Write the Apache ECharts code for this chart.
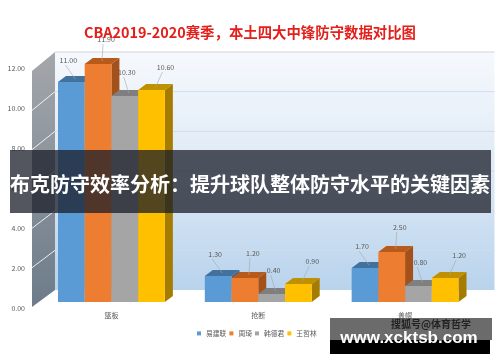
<!DOCTYPE html>
<html>
<head>
<meta charset="utf-8">
<script src="https://cdn.jsdelivr.net/npm/echarts@6/dist/echarts.min.js"></script>
<style>html,body{margin:0;padding:0;background:#fff;}#main{width:500px;height:362px;}</style>
</head>
<body>
<div id="main"></div>
<script>
// ---- data ----
const categories = ['篮板', '抢断', '盖帽'];
const players = ['易建联', '周琦', '韩德君', '王哲林'];
const yiJianlian = [11.00, 1.30, 1.70];
const zhouQi = [11.90, 1.20, 2.50];
const hanDejun = [10.30, 0.40, 0.80];
const wangZhelin = [10.60, 0.90, 1.20];
const yTicks = [0, 2, 4, 6, 8, 10, 12];
const titleText = 'CBA2019-2020赛季，本土四大中锋防守数据对比图';
const bannerText = '布克防守效率分析：提升球队整体防守水平的关键因素';

// ---- style ----
const seriesValues = [yiJianlian, zhouQi, hanDejun, wangZhelin];
const frontColors = ['#5b9bd5', '#ed7d31', '#a5a5a5', '#ffc000'];
const topColors = ['#41719c', '#b85a1c', '#7f7f7f', '#bf9000'];
const sideColors = ['#3a6690', '#a3501a', '#767676', '#a57c00'];
const labelOff = [[-3, -16], [8, -19], [2, -18], [14, -17]];
const DX = 8, DY = -6;
const FONT = '"Noto Sans CJK SC", "Noto Sans", sans-serif';

function barRender(si) {
  return function (params, api) {
    const cat = api.value(0), v = api.value(1);
    const b = api.coord([cat, 0]), t = api.coord([cat, v]);
    const band = api.size([1, 0])[0];
    const gw = band * 0.728, bw = gw / 4;
    const x0 = b[0] - gw / 2 + si * bw, x1 = x0 + bw;
    const yT = t[1], yB = b[1];
    const cx = (x0 + x1) / 2;
    const lx = cx + labelOff[si][0], ly = yT + DY + labelOff[si][1];
    return {
      type: 'group',
      children: [
        { type: 'polygon', shape: { points: [[x1, yB], [x1, yT], [x1 + DX, yT + DY], [x1 + DX, yB + DY]] }, style: { fill: sideColors[si] } },
        { type: 'polygon', shape: { points: [[x0, yT], [x1, yT], [x1 + DX, yT + DY], [x0 + DX, yT + DY]] }, style: { fill: topColors[si] } },
        { type: 'rect', shape: { x: x0, y: yT, width: bw, height: yB - yT }, style: { fill: frontColors[si] } },
        { type: 'line', shape: { x1: lx - 3, y1: ly + 5, x2: cx + DX / 2, y2: yT + DY / 2 }, style: { stroke: '#a6a6a6', lineWidth: 0.6 } },
        { type: 'text', x: lx, y: ly, style: { text: v.toFixed(2), fill: '#595959', fontSize: 7, fontFamily: FONT, align: 'center', verticalAlign: 'middle' } }
      ]
    };
  };
}

function wallRender(params, api) {
  const cs = params.coordSys;
  const vMax = yTicks[yTicks.length - 1];
  const f0 = api.coord([0, 0])[1];
  const fMax = api.coord([0, vMax])[1];
  const backL = cs.x + 17, backR = cs.x + cs.width + 16;
  const bY = v => (f0 - 12) + ((fMax - 10) - (f0 - 12)) * v / vMax;
  const lfX = cs.x - 6;
  const lY = v => (f0 + 5) + ((fMax + 9) - (f0 + 5)) * v / vMax;
  const children = [];
  children.push({
    type: 'rect', shape: { x: backL, y: bY(vMax), width: backR - backL, height: bY(0) - bY(vMax) },
    style: { fill: new echarts.graphic.LinearGradient(0, 0, 0, 1, [
      { offset: 0, color: '#f6f9fd' }, { offset: 0.5, color: '#dde9f6' }, { offset: 1, color: '#b8d3ec' }]) }
  });
  children.push({
    type: 'polygon', shape: { points: [[lfX, lY(0)], [backL, bY(0)], [backL, bY(vMax)], [lfX, lY(vMax)]] },
    style: { fill: new echarts.graphic.LinearGradient(0, 0, 0, 1, [
      { offset: 0, color: '#a4a7ab' }, { offset: 1, color: '#6d7b8a' }]) }
  });
  yTicks.forEach(v => {
    if (v === 0) return;
    children.push({ type: 'line', shape: { x1: backL, y1: bY(v), x2: backR, y2: bY(v) },
      style: { stroke: v === vMax ? '#d0d4d9' : '#d3dce6', lineWidth: 1 } });
    if (v !== vMax) {
      children.push({ type: 'line', shape: { x1: lfX, y1: lY(v), x2: backL, y2: bY(v) },
        style: { stroke: 'rgba(255,255,255,0.85)', lineWidth: 1 } });
    }
  });
  return { type: 'group', children: children };
}

const chart = echarts.init(document.getElementById('main'), null, { renderer: 'canvas' });

const series = [{
  name: 'walls', type: 'custom', renderItem: wallRender, data: [[0, 0]], silent: true, z: 0
}];
players.forEach((p, si) => {
  series.push({
    name: p, type: 'custom', z: 2 + si, silent: true,
    itemStyle: { color: frontColors[si] },
    renderItem: barRender(si),
    data: categories.map((c, ci) => [ci, seriesValues[si][ci]])
  });
});

chart.setOption({
  animation: false,
  backgroundColor: '#ffffff',
  textStyle: { fontFamily: FONT },
  title: {
    text: titleText, left: 'center', top: 25, padding: 0,
    textStyle: { fontSize: 14.4, fontWeight: 'bold', color: '#e3201b', fontFamily: FONT }
  },
  grid: { left: 38, right: 21.5, top: 62, bottom: 60 },
  xAxis: {
    type: 'category', data: categories,
    axisLine: { show: false }, axisTick: { show: false },
    axisLabel: { fontSize: 7, color: '#595959', margin: 10, fontFamily: FONT }
  },
  yAxis: {
    type: 'value', min: 0, max: 12, interval: 2,
    axisLine: { show: false }, axisTick: { show: false }, splitLine: { show: false },
    axisLabel: { fontSize: 7, color: '#595959', margin: 13, verticalAlign: 'top', padding: [3, 0, 0, 0], formatter: v => v.toFixed(2), fontFamily: FONT }
  },
  legend: {
    data: players, left: 197, top: 330, icon: 'rect', itemWidth: 4, itemHeight: 4, itemGap: 3,
    textStyle: { fontSize: 6.8, color: '#595959', fontFamily: FONT }, padding: 0
  },
  graphic: [
    { type: 'rect', z: 100, shape: { x: 10, y: 150, width: 481, height: 63 }, style: { fill: 'rgba(25,30,40,0.75)' } },
    { type: 'text', z: 101, x: 250, y: 184, style: { text: bannerText, fill: '#ffffff', font: 'bold 20px "Noto Sans CJK SC"', align: 'center', verticalAlign: 'middle' } },
    { type: 'rect', z: 100, shape: { x: 330, y: 318, width: 162, height: 22 }, style: { fill: 'rgba(70,70,70,0.8)' } },
    { type: 'rect', z: 100, shape: { x: 330, y: 340, width: 160, height: 14 }, style: { fill: '#000000' } },
    { type: 'text', z: 101, x: 431, y: 324, style: { text: '搜狐号@体育哲学', fill: '#222222', font: 'bold 10px "Noto Sans CJK SC"', align: 'center', verticalAlign: 'middle' } },
    { type: 'text', z: 102, x: 409, y: 338, style: { text: 'www.xcktsb.com', fill: '#ffffff', font: 'bold 17px "Liberation Sans"', align: 'center', verticalAlign: 'middle' } }
  ],
  series: series
});
</script>
</body>
</html>
